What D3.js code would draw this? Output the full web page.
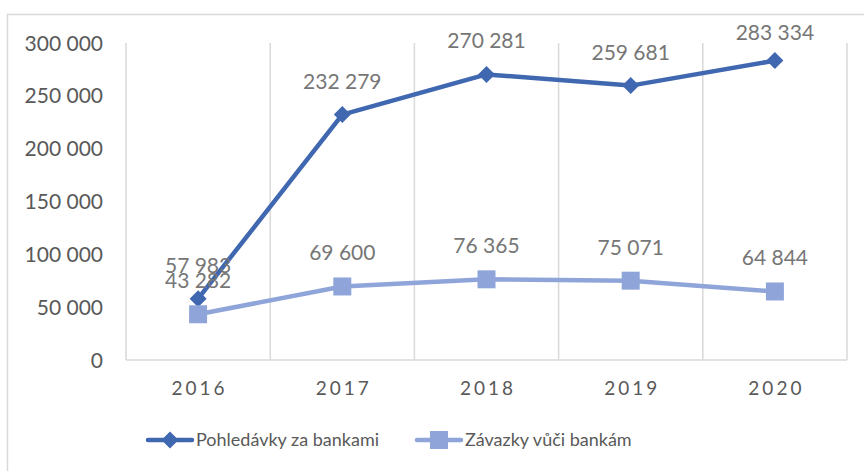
<!DOCTYPE html>
<html>
<head>
<meta charset="utf-8">
<script src="https://cdn.jsdelivr.net/npm/d3@7"></script>
<style>
  body { margin: 0; background: #fff; }
  svg { font-family: Lato, "Open Sans", sans-serif; }
</style>
</head>
<body>
<svg width="864" height="471"></svg>
<script>
var years = ["2016", "2017", "2018", "2019", "2020"];
var pohledavky = [57983, 232279, 270281, 259681, 283334];
var zavazky = [43282, 69600, 76365, 75071, 64844];
var yTicks = [0, 50000, 100000, 150000, 200000, 250000, 300000];
var seriesNames = ["Pohledávky za bankami", "Závazky vůči bankám"];

var svg = d3.select("svg"),
    width = +svg.attr("width"),
    height = +svg.attr("height");

var fmt = function(v) { return d3.format(",")(v).replace(/,/g, " "); };

// chart frame (only top and left edges visible)
svg.append("path")
    .attr("d", "M7.5," + height + "V14.5H" + width)
    .attr("fill", "none")
    .attr("stroke", "#d9d9d9")
    .attr("stroke-width", 1.5);

var x = d3.scaleBand()
    .domain(years)
    .range([126, 847]);

var y = d3.scaleLinear()
    .domain([0, 300000])
    .range([360, 43]);

// vertical gridlines at category boundaries
svg.append("g")
    .selectAll("line")
    .data(years.concat(["end"]))
    .enter().append("line")
    .attr("x1", function(d, i) { return x.range()[0] + i * x.step(); })
    .attr("x2", function(d, i) { return x.range()[0] + i * x.step(); })
    .attr("y1", y(300000))
    .attr("y2", y(0))
    .attr("stroke", "#d9d9d9")
    .attr("stroke-width", 1.5);

// baseline
svg.append("line")
    .attr("x1", x.range()[0])
    .attr("x2", x.range()[1])
    .attr("y1", y(0))
    .attr("y2", y(0))
    .attr("stroke", "#d9d9d9")
    .attr("stroke-width", 1.5);

// y labels
svg.append("g")
    .selectAll("text")
    .data(yTicks)
    .enter().append("text")
    .attr("x", 103)
    .attr("y", function(d) { return y(d); })
    .attr("dy", "0.36em")
    .attr("text-anchor", "end")
    .attr("fill", "#595959")
    .attr("font-size", 21)
    .text(fmt);

// x labels
svg.append("g")
    .selectAll("text")
    .data(years)
    .enter().append("text")
    .attr("x", function(d) { return x(d) + x.bandwidth() / 2 + 1.5; })
    .attr("y", 395)
    .attr("text-anchor", "middle")
    .attr("fill", "#595959")
    .attr("font-size", 19)
    .attr("letter-spacing", 3)
    .text(function(d) { return d; });

var series = [
    { name: seriesNames[0], values: pohledavky, color: "#4068b0", marker: "diamond" },
    { name: seriesNames[1], values: zavazky, color: "#8fa5d9", marker: "square" }
];

var line = d3.line()
    .x(function(d, i) { return x(years[i]) + x.bandwidth() / 2; })
    .y(function(d) { return y(d); });

function drawMarker(g, type, color, cx, cy) {
    if (type == "diamond") {
        g.append("path")
            .attr("d", "M" + cx + "," + (cy - 8.5) + "L" + (cx + 8.5) + "," + cy +
                  "L" + cx + "," + (cy + 8.5) + "L" + (cx - 8.5) + "," + cy + "Z")
            .attr("fill", color);
    } else {
        g.append("rect")
            .attr("x", cx - 9)
            .attr("y", cy - 9)
            .attr("width", 18)
            .attr("height", 18)
            .attr("fill", color);
    }
}

series.forEach(function(s) {
    var g = svg.append("g");
    g.append("path")
        .datum(s.values)
        .attr("d", line)
        .attr("fill", "none")
        .attr("stroke", s.color)
        .attr("stroke-width", 4.5)
        .attr("stroke-linejoin", "round");
    s.values.forEach(function(v, i) {
        drawMarker(g, s.marker, s.color, x(years[i]) + x.bandwidth() / 2, y(v));
    });
});

// data labels
series.forEach(function(s) {
    svg.append("g")
        .selectAll("text")
        .data(s.values)
        .enter().append("text")
        .attr("x", function(d, i) { return x(years[i]) + x.bandwidth() / 2; })
        .attr("y", function(d) { return Math.max(y(d) - 26, 40); })
        .attr("text-anchor", "middle")
        .attr("fill", "#767676")
        .attr("font-size", 21)
        .text(fmt);
});

// legend
var legendX = [148, 417];
series.forEach(function(s, i) {
    var g = svg.append("g");
    var x0 = legendX[i], ly = 440;
    g.append("line")
        .attr("x1", x0)
        .attr("x2", x0 + 44)
        .attr("y1", ly)
        .attr("y2", ly)
        .attr("stroke", s.color)
        .attr("stroke-width", 4.5)
        .attr("stroke-linecap", "round");
    drawMarker(g, s.marker, s.color, x0 + 22, ly);
    g.append("text")
        .attr("x", x0 + 48)
        .attr("y", ly)
        .attr("dy", "0.36em")
        .attr("fill", "#595959")
        .attr("font-size", 18)
        .text(s.name);
});
</script>
</body>
</html>
